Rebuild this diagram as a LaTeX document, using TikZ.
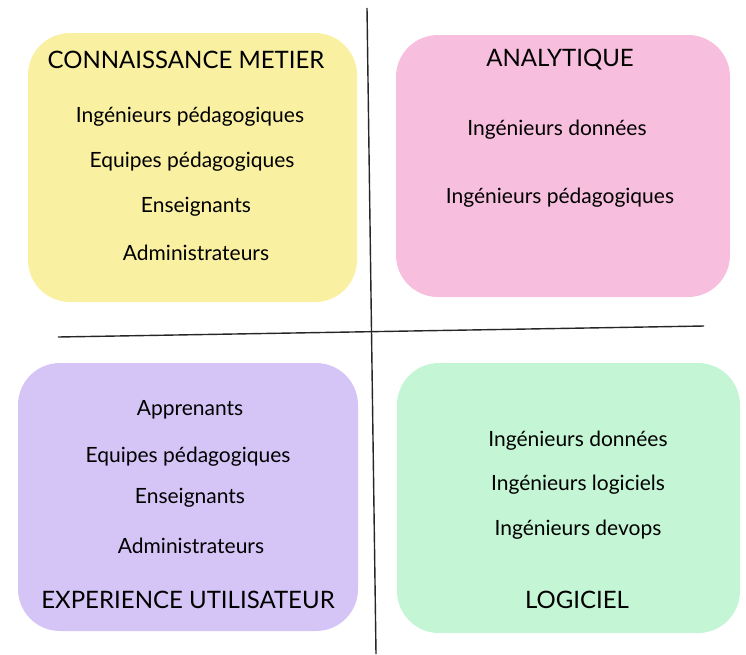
\documentclass[tikz,border=0pt]{standalone}
\usepackage{fontspec}
\setmainfont{Lato}
\usepackage{xcolor}
\usepackage{tikz}
\usetikzlibrary{shapes,positioning,calc}
\definecolor{jaune}{RGB}{250,240,162}
\definecolor{rose}{RGB}{247,190,222}
\definecolor{violet}{RGB}{213,197,246}
\definecolor{vert}{RGB}{196,245,213}
\tikzstyle{bloc} = [rectangle, rounded corners=42pt, draw=none, inner sep=0pt]
\tikzstyle{titre} = [font=\fontsize{24}{28}\selectfont, text=black]
\tikzstyle{role} = [font=\fontsize{21}{25}\selectfont, text=black]
\tikzstyle{axe} = [line width=1.4pt, black!85]

\begin{document}
\begin{tikzpicture}[x=1pt, y=-1pt]
\useasboundingbox (0,0) rectangle (746,654);

% Blocs de couleur
\node (metier) [bloc, fill=jaune, minimum width=329pt, minimum height=269pt] at (192.5,167.5) {};
\node (analytique) [bloc, fill=rose, minimum width=334pt, minimum height=262pt] at (563,166) {};
\node (experience) [bloc, fill=violet, minimum width=340pt, minimum height=268pt] at (188,497) {};
\node (logiciel) [bloc, fill=vert, minimum width=343pt, minimum height=270pt] at (568.5,498) {};

% Axes
\coordinate (haut) at (367,8);
\coordinate (bas) at (376,654);
\coordinate (gauche) at (58,337);
\coordinate (droite) at (704,326);
\draw [axe] (haut) -- (bas);
\draw [axe] (gauche) -- (droite);

% Connaissance metier
\node (t1) [titre] at (186,60) {CONNAISSANCE METIER};
\node (m1) [role] at (190,117) {Ingénieurs pédagogiques};
\node (m2) [role] at (192,162) {Equipes pédagogiques};
\node (m3) [role] at (196,207) {Enseignants};
\node (m4) [role] at (196,253) {Administrateurs};

% Analytique
\node (t2) [titre] at (560,60) {ANALYTIQUE};
\node (a1) [role] at (557,130) {Ingénieurs données};
\node (a2) [role] at (560,198) {Ingénieurs pédagogiques};

% Experience utilisateur
\node (t3) [titre] at (188,600) {EXPERIENCE UTILISATEUR};
\node (e1) [role] at (190,410) {Apprenants};
\node (e2) [role] at (188,457) {Equipes pédagogiques};
\node (e3) [role] at (190,498) {Enseignants};
\node (e4) [role] at (191,546) {Administrateurs};

% Logiciel
\node (t4) [titre] at (577,600) {LOGICIEL};
\node (l1) [role] at (578,441) {Ingénieurs données};
\node (l2) [role] at (578,485) {Ingénieurs logiciels};
\node (l3) [role] at (578,530) {Ingénieurs devops};

\end{tikzpicture}
\end{document}
